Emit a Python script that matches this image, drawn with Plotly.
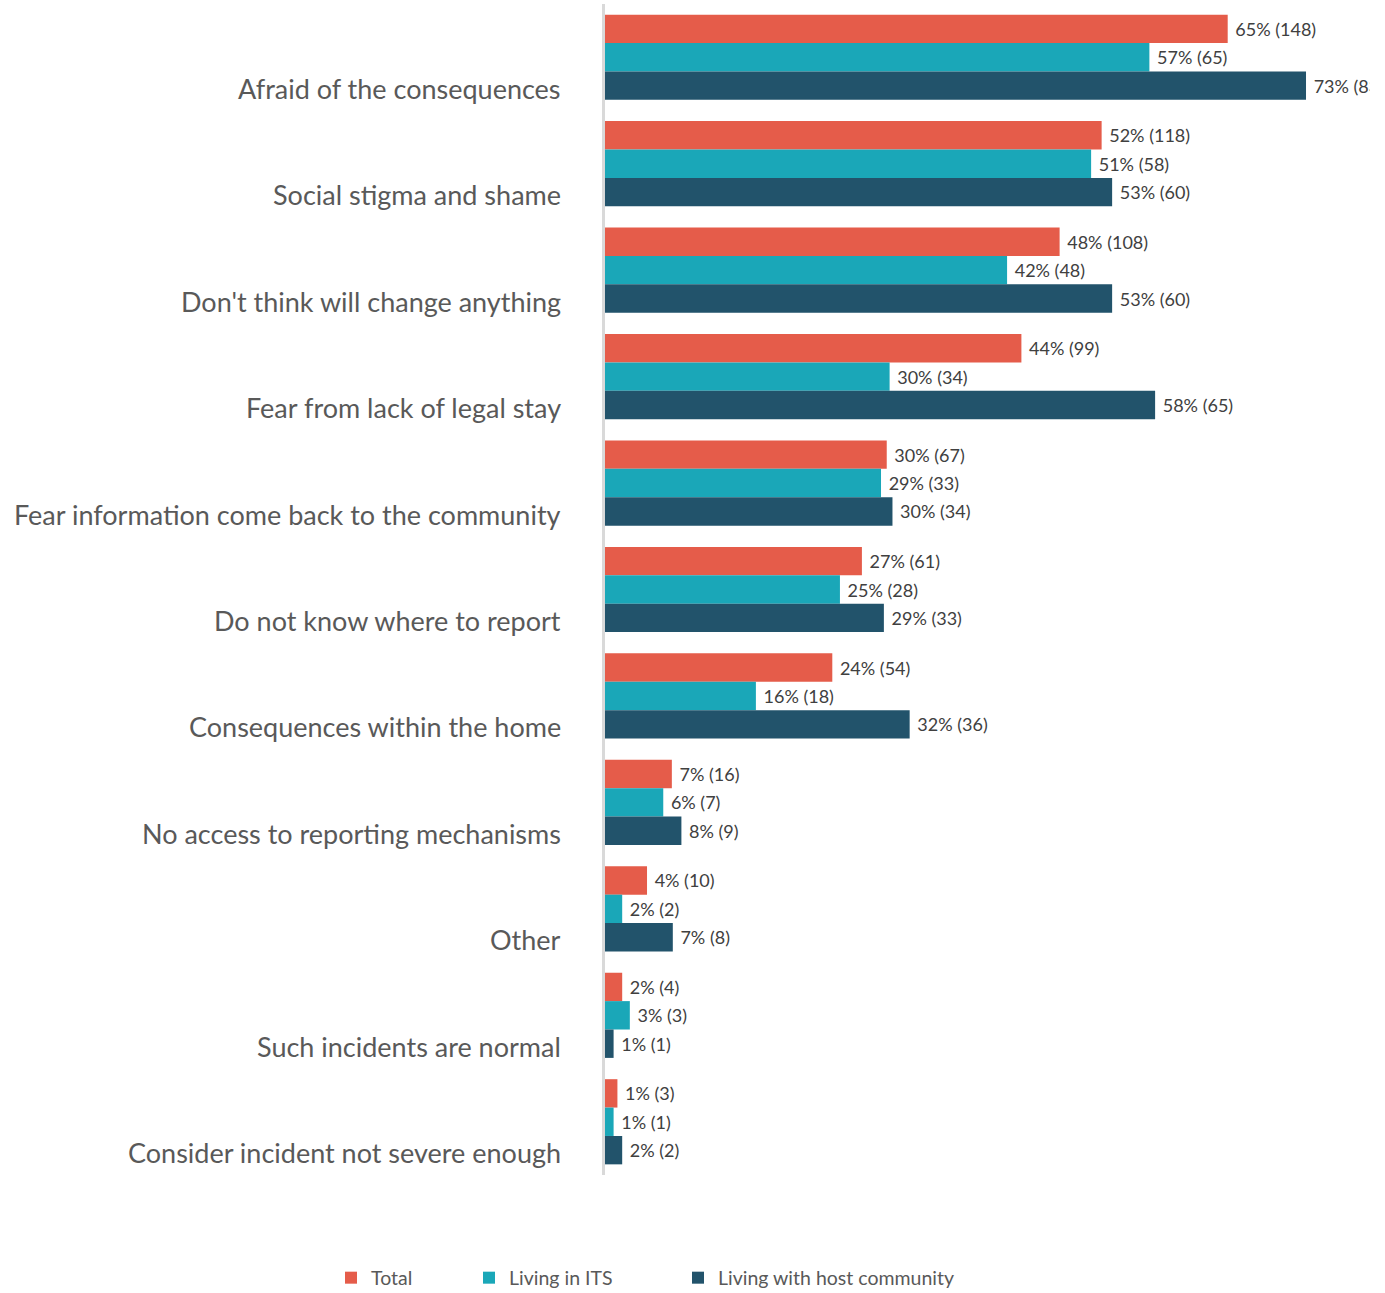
import plotly.graph_objects as go

categories = [
    "Afraid of the consequences",
    "Social stigma and shame",
    "Don't think will change anything",
    "Fear from lack of legal stay",
    "Fear information come back to the community",
    "Do not know where to report",
    "Consequences within the home",
    "No access to reporting mechanisms",
    "Other",
    "Such incidents are normal",
    "Consider incident not severe enough",
]

series_names = ["Total", "Living in ITS", "Living with host community"]

total_pct = [65.2, 52.0, 47.6, 43.6, 29.5, 26.9, 23.8, 7.0, 4.4, 1.8, 1.3]
total_n = [148, 118, 108, 99, 67, 61, 54, 16, 10, 4, 3]

its_pct = [57.0, 50.9, 42.1, 29.8, 28.9, 24.6, 15.8, 6.1, 1.8, 2.6, 0.9]
its_n = [65, 58, 48, 34, 33, 28, 18, 7, 2, 3, 1]

host_pct = [73.4, 53.1, 53.1, 57.6, 30.1, 29.2, 31.9, 8.0, 7.1, 0.9, 1.8]
host_n = [83, 60, 60, 65, 34, 33, 36, 9, 8, 1, 2]

colors = ["#E55C4A", "#1AA7B8", "#22536B"]

W, H = 1385, 1293
ML, MR, MT, MB = 605, 15, 4, 118

fig = go.Figure()
legend_ids = ["legend", "legend2", "legend3"]
for name, pct, n, col, lg in zip(series_names, [total_pct, its_pct, host_pct],
                                 [total_n, its_n, host_n], colors, legend_ids):
    fig.add_trace(go.Bar(
        y=categories, x=pct, orientation="h", name=name,
        marker=dict(color=col, line=dict(width=0)),
        text=[f"\u00a0{p:.0f}% ({c})" for p, c in zip(pct, n)],
        textposition="outside", cliponaxis=True, constraintext="none",
        textfont=dict(family="Lato, sans-serif", size=18, color="#404040"),
        legend=lg, hoverinfo="skip",
    ))

annotations = []
for cat in categories:
    annotations.append(dict(
        x=0, xref="paper", xanchor="right", xshift=-42,
        y=cat, yref="y", yanchor="middle", yshift=-31,
        text=cat, showarrow=False,
        font=dict(family="Lato, sans-serif", size=27, color="#595959"),
    ))

legend_common = dict(orientation="h", xref="container", yref="container",
                     yanchor="middle", y=1 - 1278 / H, xanchor="left",
                     font=dict(family="Lato, sans-serif", size=19.5, color="#595959"),
                     bgcolor="rgba(0,0,0,0)")

fig.update_layout(
    width=W, height=H,
    margin=dict(l=ML, r=MR, t=MT, b=MB),
    paper_bgcolor="white", plot_bgcolor="white",
    barmode="group", bargap=0.2, bargroupgap=0,
    showlegend=True,
    legend=dict(x=331 / W, **legend_common),
    legend2=dict(x=469 / W, **legend_common),
    legend3=dict(x=678 / W, **legend_common),
    annotations=annotations,
    xaxis=dict(range=[0, 80.1], visible=False, fixedrange=True),
    yaxis=dict(autorange="reversed", showticklabels=False, showgrid=False,
               zeroline=False, showline=True, linecolor="#D9D9D9", linewidth=3,
               ticks=""),
)

fig.write_html("out.html", config={"displayModeBar": False},
               post_script="document.body.style.margin='0';document.body.style.overflow='hidden';")
